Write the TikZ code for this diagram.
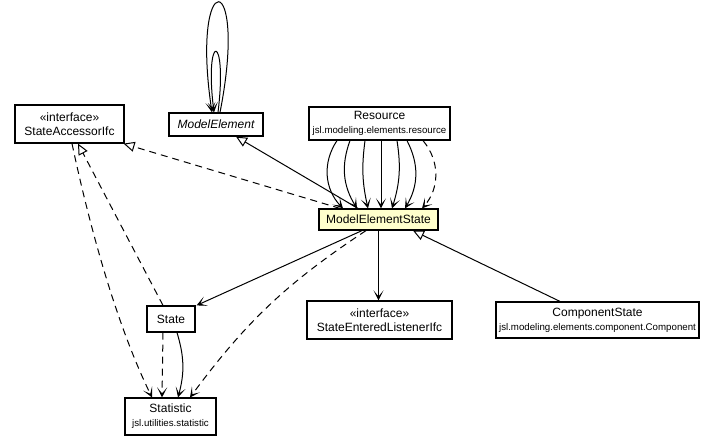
\documentclass[tikz,border=0pt]{standalone}
\usepackage{fontspec}
\setmainfont{Liberation Sans}
\usepackage{tikz}
\usetikzlibrary{arrows.meta, positioning}
\definecolor{umlline}{RGB}{0,0,0}
\definecolor{umlfocus}{RGB}{255,255,204}
\newcommand{\pkgname}[1]{{\fontsize{9.7}{11}\selectfont #1}}
\tikzset{
  cls/.style={rectangle, draw=umlline, fill=white, line width=1.2pt,
    align=center, inner sep=0pt, font=\fontsize{12}{14}\selectfont},
  focus/.style={cls, fill=umlfocus},
  assoc/.style={-{Stealth[length=10pt, width=10pt, inset=6pt]}, line width=1pt, color=umlline},
  dep/.style={assoc, dash pattern=on 7pt off 5pt},
  gen/.style={-{Triangle[open, fill=white, length=11pt, width=10pt]}, line width=1pt, color=umlline},
  real/.style={gen, dash pattern=on 7pt off 5pt}
}

\begin{document}
\begin{tikzpicture}[x=1pt, y=1pt]
  \useasboundingbox (0,0) rectangle (717,-447);
  % Classes
  \node[cls, minimum width=109, minimum height=38] (sai) at (69.5,-124) {«interface»\\StateAccessorIfc};
  \node[cls, minimum width=94, minimum height=23, font=\fontsize{12}{14}\selectfont\itshape] (me) at (216,-124.5) {ModelElement};
  \node[cls, minimum width=141, minimum height=33] (res) at (379.5,-123.5) {Resource\\\pkgname{jsl.modeling.elements.resource}};
  \node[focus, minimum width=119, minimum height=21] (mes) at (378.5,-219.5) {ModelElementState};
  \node[cls, minimum width=48, minimum height=26] (state) at (171,-319) {State};
  \node[cls, minimum width=91, minimum height=37] (stat) at (170.5,-416.5) {Statistic\\\pkgname{jsl.utilities.statistic}};
  \node[cls, minimum width=145, minimum height=38] (seli) at (379.5,-320) {«interface»\\StateEnteredListenerIfc};
  \node[cls, minimum width=203, minimum height=36] (cs) at (597.5,-320) {ComponentState\\\pkgname{jsl.modeling.elements.component.Component}};
  % Self loops on ModelElement
  \draw[assoc] ([xshift=4]me.north) .. controls +(29,147) and +(-22,147) .. ([xshift=-4]me.north);
  \draw[assoc] ([xshift=2]me.north) .. controls +(10,81) and +(-10,81) .. ([xshift=-2]me.north);
  % Resource to ModelElementState
  \draw[assoc] ([xshift=-42.5]res.south) to[bend right=39] ([xshift=-35.5]mes.north);
  \draw[assoc] ([xshift=-29.5]res.south) to[bend right=26] ([xshift=-21.5]mes.north);
  \draw[assoc] ([xshift=-14.5]res.south) to[bend right=10] ([xshift=-10.5]mes.north);
  \draw[assoc] ([xshift=1.5]res.south) -- ([xshift=2.5]mes.north);
  \draw[assoc] ([xshift=17.5]res.south) to[bend left=13] ([xshift=13.5]mes.north);
  \draw[assoc] ([xshift=27.5]res.south) to[bend left=29] ([xshift=26.5]mes.north);
  \draw[dep] ([xshift=43.5]res.south) to[bend left=41] ([xshift=43.5]mes.north);
  % Generalizations and realizations
  \draw[real] ([xshift=-38.5]mes.north) -- ([xshift=-1]sai.south east);
  \draw[gen] ([xshift=-20.5]mes.north) -- ([xshift=20]me.south);
  \draw[gen] ([xshift=-37.5]cs.north) -- ([xshift=34.5]mes.south);
  \draw[real] ([xshift=-8]state.north) -- ([xshift=8.5]sai.south);
  % ModelElementState uses
  \draw[assoc] ([xshift=-16.5]mes.south) -- ([xshift=1]state.north east);
  \draw[dep] ([xshift=-12.5]mes.south) to[bend right=10] ([xshift=19.5]stat.north);
  \draw[assoc] (mes.south) -- (mes.south |- seli.north);
  % Statistic
  \draw[dep] ([xshift=2.5]sai.south) to[out=-78, in=116, looseness=0.8] ([xshift=-18.5]stat.north);
  \draw[dep] ([xshift=-8]state.south) -- ([xshift=-8.5]stat.north);
  \draw[assoc] ([xshift=6]state.south) to[bend left=16] ([xshift=7.5]stat.north);
\end{tikzpicture}
\end{document}
